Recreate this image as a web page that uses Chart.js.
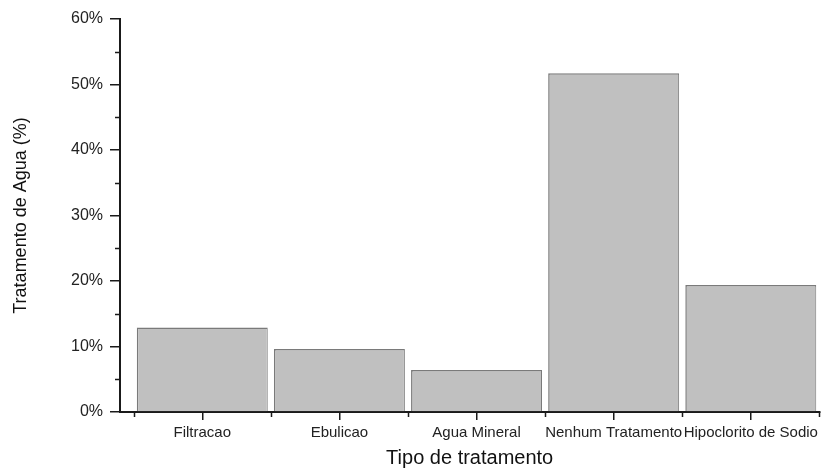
<!DOCTYPE html>
<html>
<head>
<meta charset="utf-8">
<script src="https://cdn.jsdelivr.net/npm/chart.js@4.4.1/dist/chart.umd.min.js"></script>
<style>
  html, body { margin: 0; padding: 0; background: #fff; }
  #wrap { width: 822px; height: 470px; }
</style>
</head>
<body>
<div id="wrap"><canvas id="chart" width="822" height="470"></canvas></div>
<script>
// categories and values (% of households)
const categories = ['Filtracao', 'Ebulicao', 'Agua Mineral', 'Nenhum Tratamento', 'Hipoclorito de Sodio'];
const positions = [1, 2, 3, 4, 5];
const values = [12.9, 9.6, 6.4, 51.7, 19.4];
const yTicks = [0, 10, 20, 30, 40, 50, 60];
const yMinor = [5, 15, 25, 35, 45, 55];
const xMinor = [0.5, 1.5, 2.5, 3.5, 4.5, 5.5];

const axisColor = '#1a1a1a';
const font = "'Liberation Sans', Arial, sans-serif";

// --- short minor ticks outside the axes ---
const minorTicks = {
    id: 'minorTicks',
    afterDraw(chart) {
        const ctx = chart.ctx;
        const xs = chart.scales.x, ys = chart.scales.y;
        const area = chart.chartArea;
        ctx.save();
        ctx.strokeStyle = axisColor;
        ctx.lineWidth = 1.5;
        ctx.beginPath();
        yMinor.forEach(v => {
            const py = Math.round(ys.getPixelForValue(v)) + 0.5;
            ctx.moveTo(area.left - 5, py);
            ctx.lineTo(area.left, py);
        });
        xMinor.forEach(v => {
            const px = Math.round(xs.getPixelForValue(v)) + 0.5;
            ctx.moveTo(px, area.bottom);
            ctx.lineTo(px, area.bottom + 5);
        });
        ctx.stroke();
        ctx.restore();
    }
};

new Chart(document.getElementById('chart'), {
    type: 'bar',
    data: {
        datasets: [{
            data: positions.map((p, i) => ({ x: p, y: values[i] })),
            backgroundColor: '#c0c0c0',
            borderColor: '#7a7a7a',
            borderWidth: { left: 1.5, top: 1.5, right: 1, bottom: 0 },
            barPercentage: 0.955,
            categoryPercentage: 1
        }]
    },
    options: {
        responsive: false,
        animation: false,
        layout: { padding: { top: 19, right: 1, left: 0, bottom: 0 } },
        plugins: { legend: { display: false }, tooltip: { enabled: false } },
        scales: {
            x: {
                type: 'linear',
                min: 0.4,
                max: 5.5,
                offset: false,
                afterBuildTicks: scale => { scale.ticks = positions.map(v => ({ value: v })); },
                afterFit: scale => { scale.height = 58; },
                ticks: {
                    autoSkip: false,
                    maxRotation: 0,
                    padding: 4,
                    color: '#222',
                    font: { family: font, size: 15 },
                    callback: v => categories[positions.indexOf(v)]
                },
                grid: { offset: false, drawOnChartArea: false, tickLength: 8, color: axisColor, lineWidth: 1.5 },
                border: { color: axisColor, width: 2 },
                title: {
                    display: true,
                    text: 'Tipo de tratamento',
                    color: '#111',
                    font: { family: font, size: 20 },
                    padding: { top: 0, bottom: 0 }
                }
            },
            y: {
                min: 0,
                max: 60,
                afterBuildTicks: scale => { scale.ticks = yTicks.map(v => ({ value: v })); },
                afterFit: scale => { scale.width = 120; },
                ticks: {
                    padding: 7,
                    color: '#222',
                    font: { family: font, size: 16 },
                    callback: v => v + '%'
                },
                grid: { drawOnChartArea: false, tickLength: 10, color: axisColor, lineWidth: 1.5 },
                border: { color: axisColor, width: 2 },
                title: {
                    display: true,
                    text: 'Tratamento de Agua (%)',
                    color: '#111',
                    font: { family: font, size: 18 },
                    padding: { top: 10, bottom: 0 }
                }
            }
        }
    },
    plugins: [minorTicks]
});
</script>
</body>
</html>
